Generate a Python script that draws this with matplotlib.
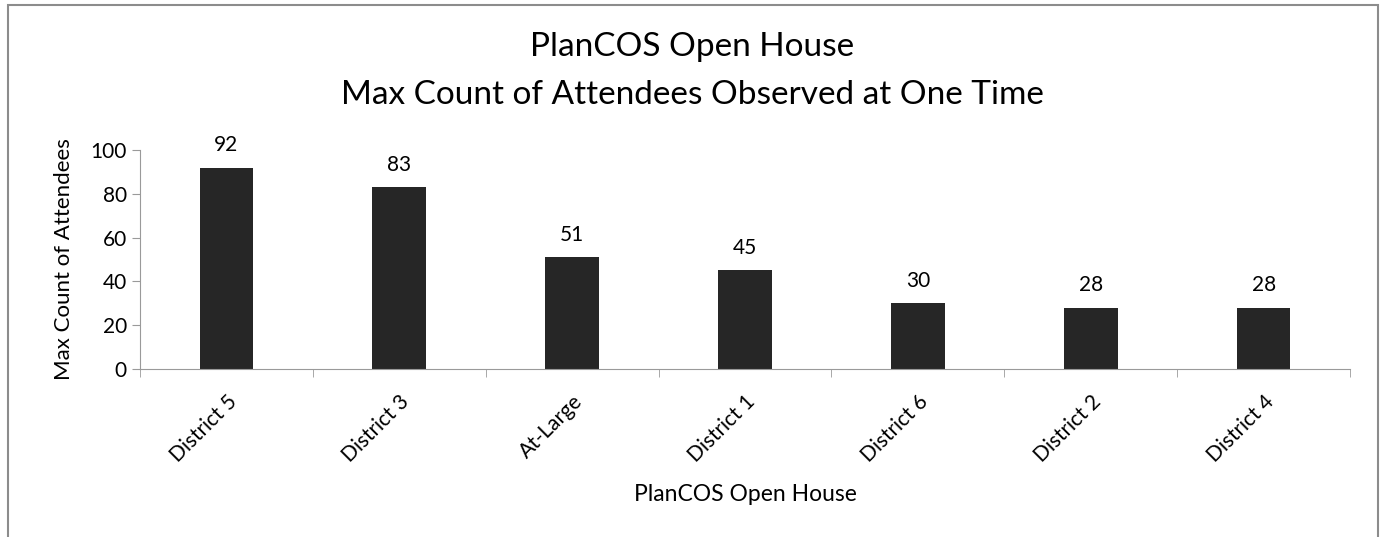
from matplotlib import pyplot as plt
import numpy as np

districts = ['District 5', 'District 3', 'At-Large', 'District 1',
             'District 6', 'District 2', 'District 4']
attendees = [92, 83, 51, 45, 30, 28, 28]

plt.rcParams['font.family'] = ['Lato', 'DejaVu Sans']

fig = plt.figure(figsize=(13.85, 5.37), dpi=100)
ax = fig.add_axes([140/1385, 1-369/537, (1350-140)/1385, (369-150)/537])

x = np.arange(len(districts))
bars = ax.bar(x, attendees, width=0.31, color='#262626')
for xi, v in zip(x, attendees):
    ax.annotate(str(v), (xi, v), xytext=(0, 9), textcoords='offset points',
                ha='center', va='bottom', fontsize=15)

ax.set_xlim(-0.5, len(districts) - 0.5)
ax.set_ylim(0, 100)
ax.set_yticks(np.arange(0, 101, 20))
ax.set_xticks(x)
ax.set_xticklabels(districts, rotation=45, ha='right', rotation_mode='anchor',
                   fontsize=15)
ax.set_xticks(np.arange(-0.5, len(districts)), minor=True)
ax.tick_params(axis='x', which='major', length=0, pad=16)
ax.tick_params(axis='x', which='minor', length=6, color='#9a9a9a')
ax.tick_params(axis='y', length=6, color='#9a9a9a', labelsize=15)
for s in ['top', 'right']:
    ax.spines[s].set_visible(False)
for s in ['left', 'bottom']:
    ax.spines[s].set_color('#9a9a9a')

ax.set_ylabel('Max Count of Attendees', fontsize=16, labelpad=12)
ax.set_xlabel('PlanCOS Open House', fontsize=16.5, labelpad=13)
fig.text(0.5, 1-47/537, 'PlanCOS Open House',
         ha='center', va='center', fontsize=24)
fig.text(0.5, 1-95/537, 'Max Count of Attendees Observed at One Time',
         ha='center', va='center', fontsize=24)

fig.patches.append(plt.Rectangle((8/1385, -0.1), 1370/1385, 1.1-5/537,
                                 transform=fig.transFigure, fill=False,
                                 edgecolor='#8c8c8c', linewidth=1.5))

fig.savefig('out.png', dpi=100)
